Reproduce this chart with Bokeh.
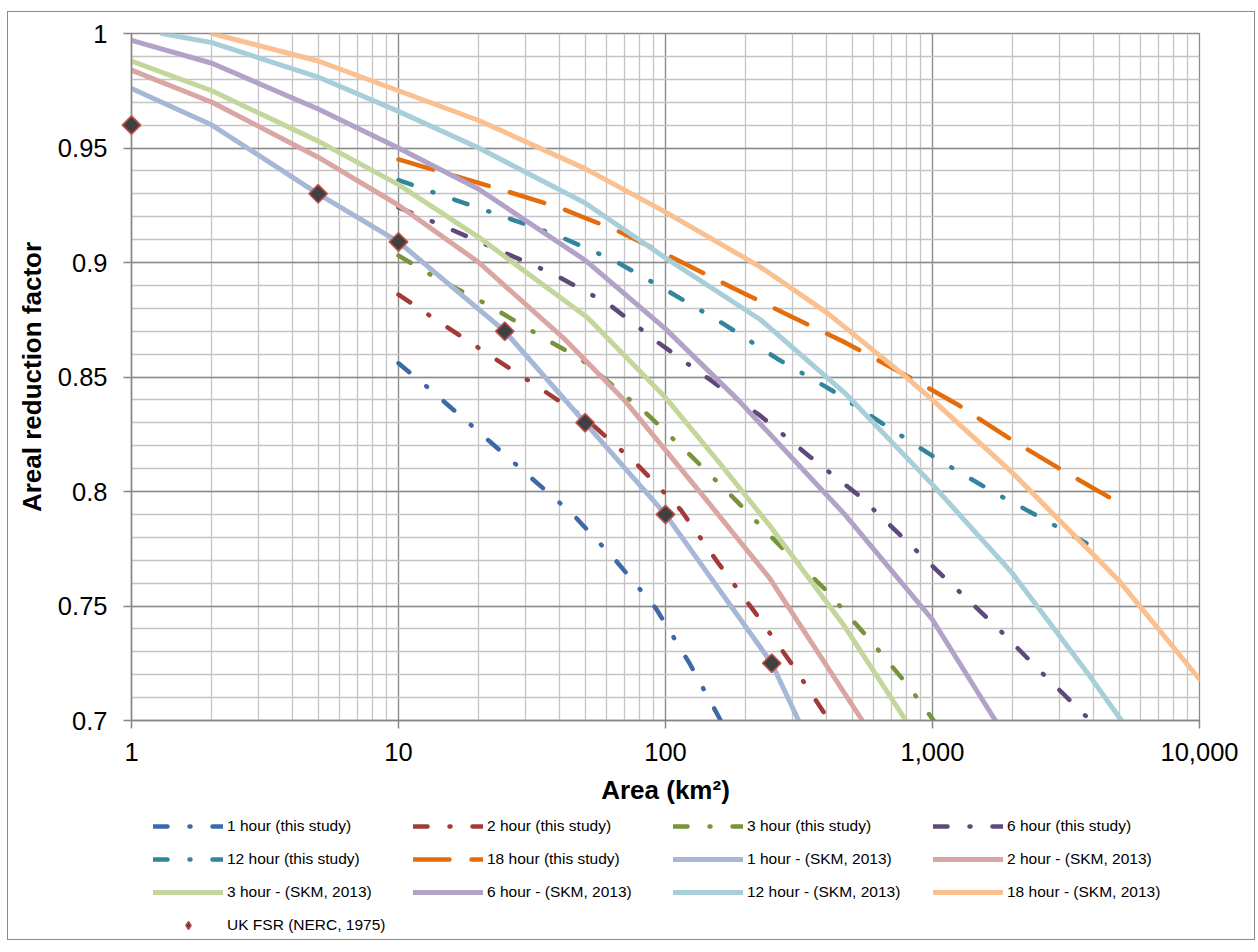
import math
from bokeh.plotting import figure
from bokeh.layouts import column
from bokeh.models import (Legend, LegendItem, FixedTicker, CustomJSTickFormatter, Range1d)
from bokeh.embed import file_html
from bokeh.resources import INLINE

# ---------------- data ----------------
x_major = [1, 10, 100, 1000, 10000]
x_minor = [m * d for d in [1, 10, 100, 1000] for m in range(2, 10)]
y_major = [0.7, 0.75, 0.8, 0.85, 0.9, 0.95, 1.0]
y_minor = [round(0.7 + 0.01 * i, 2) for i in range(31)]

# this study
ts_1h_x = [10, 13, 20, 30, 45, 65, 92, 123, 161]
ts_1h_y = [0.856, 0.845, 0.826, 0.808, 0.790, 0.770, 0.749, 0.725, 0.700]
ts_2h_x = [10, 13.4, 21, 33, 50, 78, 114, 157, 217, 300, 410]
ts_2h_y = [0.886, 0.876, 0.861, 0.846, 0.832, 0.812, 0.792, 0.769, 0.747, 0.724, 0.700]
ts_3h_x = [10, 13.5, 22, 35, 48, 85, 126, 184, 270, 398, 575, 813, 1010]
ts_3h_y = [0.903, 0.894, 0.881, 0.867, 0.858, 0.834, 0.815, 0.796, 0.776, 0.757, 0.736, 0.715, 0.700]
ts_6h_x = [10, 14, 38, 61, 94, 146, 227, 349, 533, 788, 1165, 1734, 2560, 3900]
ts_6h_y = [0.924, 0.917, 0.895, 0.882, 0.865, 0.849, 0.833, 0.815, 0.798, 0.779, 0.760, 0.741, 0.721, 0.700]
ts_12h_x = [10, 14, 23.5, 39, 64, 104, 166, 262, 422, 663, 1047, 1675, 2690, 4400]
ts_12h_y = [0.936, 0.930, 0.921, 0.912, 0.901, 0.887, 0.873, 0.858, 0.844, 0.829, 0.814, 0.800, 0.787, 0.773]
ts_18h_x = [10, 24, 40, 67, 107, 178, 289, 472, 760, 1240, 1950, 3090, 5000]
ts_18h_y = [0.945, 0.932, 0.924, 0.9135, 0.902, 0.889, 0.877, 0.865, 0.852, 0.838, 0.823, 0.809, 0.795]

# SKM, 2013
skm_1h_x = [1, 2, 5, 10, 25, 50, 100, 250, 315]
skm_1h_y = [0.976, 0.960, 0.930, 0.909, 0.870, 0.830, 0.790, 0.725, 0.700]
skm_2h_x = [1, 2, 5, 10, 20, 41.5, 70, 143, 246, 546]
skm_2h_y = [0.984, 0.970, 0.946, 0.925, 0.900, 0.867, 0.840, 0.796, 0.762, 0.700]
skm_3h_x = [1, 2, 5, 10, 20, 51, 100, 158, 246, 469, 795]
skm_3h_y = [0.988, 0.975, 0.953, 0.934, 0.911, 0.876, 0.841, 0.813, 0.785, 0.741, 0.700]
skm_6h_x = [1, 2, 5, 10, 20, 50, 100, 187, 469, 1000, 1720]
skm_6h_y = [0.997, 0.987, 0.967, 0.950, 0.932, 0.901, 0.871, 0.840, 0.790, 0.744, 0.700]
skm_12h_x = [1.3, 2, 5, 10, 20, 50, 100, 227, 470, 1000, 2000, 3850, 5100]
skm_12h_y = [1.0, 0.996, 0.981, 0.966, 0.950, 0.926, 0.902, 0.875, 0.843, 0.803, 0.764, 0.720, 0.700]
skm_18h_x = [2, 5, 10, 20, 50, 100, 227, 403, 759, 1000, 2000, 5000, 10000]
skm_18h_y = [1.0, 0.988, 0.975, 0.962, 0.941, 0.922, 0.898, 0.878, 0.852, 0.840, 0.808, 0.761, 0.718]

# UK FSR (NERC, 1975)
fsr_x = [1, 5, 10, 25, 50, 100, 250]
fsr_y = [0.960, 0.930, 0.909, 0.870, 0.830, 0.790, 0.725]

FONT = "Liberation Sans"
W = 1246

p = figure(width=W, height=802, x_axis_type="log",
           x_range=Range1d(1, 10000), y_range=Range1d(0.7, 1.0),
           output_backend="svg", toolbar_location=None,
           min_border_left=123, min_border_top=21, min_border_right=55,
           min_border_bottom=94)
p.background_fill_color = "white"
p.border_fill_color = "white"
p.outline_line_color = "#8c8c8c"
p.outline_line_width = 1.3

xt = FixedTicker(ticks=x_major, minor_ticks=x_minor)
yt = FixedTicker(ticks=y_major, minor_ticks=y_minor)
p.xaxis.ticker = xt
p.xgrid.ticker = xt
p.yaxis.ticker = yt
p.ygrid.ticker = yt

for g in (p.xgrid, p.ygrid):
    g.grid_line_color = "#8c8c8c"
    g.grid_line_width = 1.4
    g.minor_grid_line_color = "#c4c4c4"
    g.minor_grid_line_width = 1.3

p.xaxis.formatter = CustomJSTickFormatter(code="return Math.round(tick).toLocaleString('en-US');")
p.yaxis.formatter = CustomJSTickFormatter(code="return String(Math.round(tick*100)/100);")

for ax in (p.xaxis, p.yaxis):
    ax.axis_line_color = "#868686"
    ax.axis_line_width = 1.5
    ax.major_tick_line_color = "#868686"
    ax.major_tick_line_width = 1.5
    ax.major_tick_out = 8
    ax.major_tick_in = 0
    ax.minor_tick_line_color = None
    ax.major_label_text_font = FONT
    ax.major_label_text_font_size = "25.5px"
    ax.major_label_text_color = "black"
    ax.axis_label_text_font = FONT
    ax.axis_label_text_font_size = "26px"
    ax.axis_label_text_font_style = "bold"
    ax.axis_label_text_color = "black"

p.xaxis.axis_label = "Area (km²)"
p.yaxis.axis_label = "Areal reduction factor"
p.xaxis.major_label_standoff = 14
p.yaxis.major_label_standoff = 16
p.xaxis.axis_label_standoff = 11
p.yaxis.axis_label_standoff = 8

DD = "14 22 1 22"
LD = "36 22"

study = [
    ("1 hour (this study)", ts_1h_x, ts_1h_y, "#3D6AA6", DD),
    ("2 hour (this study)", ts_2h_x, ts_2h_y, "#A23B37", DD),
    ("3 hour (this study)", ts_3h_x, ts_3h_y, "#77933C", DD),
    ("6 hour (this study)", ts_6h_x, ts_6h_y, "#5F497A", DD),
    ("12 hour (this study)", ts_12h_x, ts_12h_y, "#31859C", DD),
    ("18 hour (this study)", ts_18h_x, ts_18h_y, "#E46C0A", LD),
]
skm = [
    ("1 hour - (SKM, 2013)", skm_1h_x, skm_1h_y, "#A6B8D8"),
    ("2 hour - (SKM, 2013)", skm_2h_x, skm_2h_y, "#D9A6A4"),
    ("3 hour - (SKM, 2013)", skm_3h_x, skm_3h_y, "#C3D69B"),
    ("6 hour - (SKM, 2013)", skm_6h_x, skm_6h_y, "#B3A2C7"),
    ("12 hour - (SKM, 2013)", skm_12h_x, skm_12h_y, "#A8CEDA"),
    ("18 hour - (SKM, 2013)", skm_18h_x, skm_18h_y, "#FAC090"),
]

for label, xs, ys, col, dash in study:
    p.line(xs, ys, line_color=col, line_width=4.5, line_dash=dash, line_cap="round")
for label, xs, ys, col in skm:
    p.line(xs, ys, line_color=col, line_width=5, line_cap="round", line_join="round")

FSR_FILL, FSR_LINE = "#404040", "#C0504D"
p.scatter(fsr_x, fsr_y, marker="square", angle=math.pi / 4, size=13,
          fill_color=FSR_FILL, line_color=FSR_LINE, line_width=1.6, level="overlay")

# ---- legend panel (separate figure beneath the chart) ----
p2 = figure(width=W, height=125, x_range=Range1d(0, 1), y_range=Range1d(0, 1),
            output_backend="svg", toolbar_location=None, min_border=0,
            x_axis_location=None, y_axis_location=None)
p2.grid.visible = False
p2.outline_line_color = None
p2.background_fill_color = "white"
p2.border_fill_color = "white"

NAN = [float("nan")]
items = []
for label, xs, ys, col, dash in study:
    r = p2.line(NAN, NAN, line_color=col, line_width=4.5, line_dash=dash, line_cap="round")
    items.append(LegendItem(label=label, renderers=[r]))
for label, xs, ys, col in skm:
    r = p2.line(NAN, NAN, line_color=col, line_width=5, line_cap="round")
    items.append(LegendItem(label=label, renderers=[r]))
r_leg = p2.scatter(NAN, NAN, marker="diamond", size=14,
                   fill_color=FSR_FILL, line_color=FSR_LINE, line_width=1.4)
items.append(LegendItem(label="UK FSR (NERC, 1975)", renderers=[r_leg]))

legend = Legend(items=items, location=(22, 4), orientation="horizontal", ncols=4,
                glyph_width=70, glyph_height=20, label_height=20, label_width=173,
                label_standoff=4, spacing=13, padding=0, margin=0,
                border_line_color=None, background_fill_alpha=0,
                label_text_font=FONT, label_text_font_size="15.5px",
                label_text_color="black")
p2.add_layout(legend, "center")

layout = column(p, p2, margin=(11, 0, 0, 7), styles={"border": "1.5px solid #8a8a8a"})

open("out.html", "w").write(file_html(layout, INLINE))
